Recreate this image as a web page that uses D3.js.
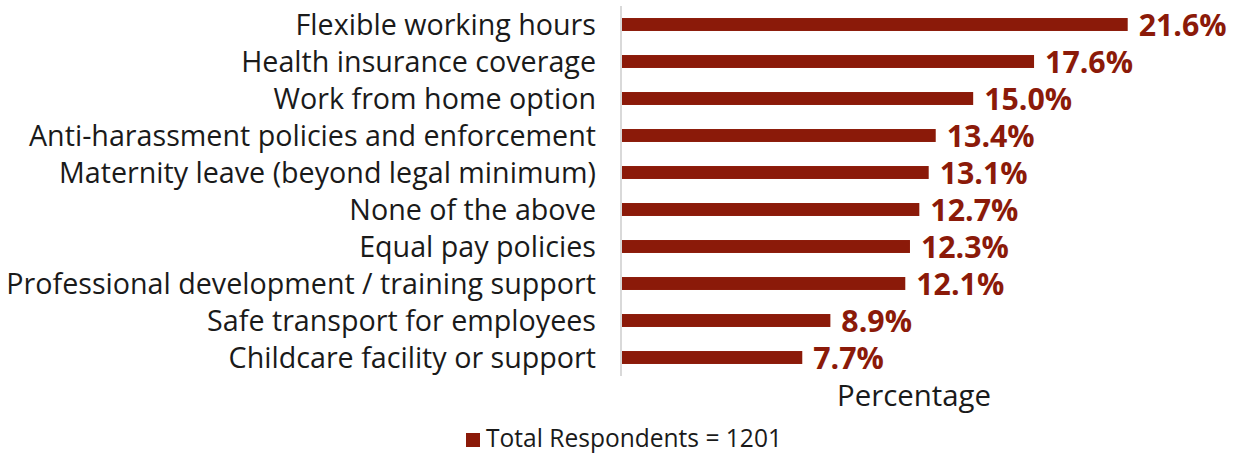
<!DOCTYPE html>
<html><head><meta charset="utf-8">
<script src="https://cdn.jsdelivr.net/npm/d3@7"></script>
<style>body{margin:0;background:#fff}svg{display:block}</style>
</head><body><div id="chart"></div>
<script>
const categories = ["Flexible working hours","Health insurance coverage","Work from home option","Anti-harassment policies and enforcement","Maternity leave (beyond legal minimum)","None of the above","Equal pay policies","Professional development / training support","Safe transport for employees","Childcare facility or support"];
const values = [21.6,17.6,15.0,13.4,13.1,12.7,12.3,12.1,8.9,7.7];
const seriesName = "Total Respondents = 1201";
const axisTitle = "Percentage";

const W=1237,H=455, color="#8B1A09", font="'Open Sans', sans-serif";
const svg=d3.select("#chart").append("svg").attr("width",W).attr("height",H);
const x0=622, y0=6, y1=376;
const x=d3.scaleLinear().domain([0,21.6]).range([x0,1127.7]);
const y=d3.scaleBand().domain(categories).range([y0,y1]).paddingInner(0.65).paddingOuter(0.325);

function fit(sel,target){const w=sel.node().getComputedTextLength();const fs=parseFloat(sel.attr("font-size"));sel.attr("font-size",fs*target/w);return fs*target/w;}

svg.append("line").attr("x1",621).attr("x2",621).attr("y1",y0).attr("y2",y1).attr("stroke","#d9d9d9").attr("stroke-width",2);

svg.selectAll("rect.bar").data(values).join("rect").attr("class","bar")
 .attr("x",x0).attr("y",(d,i)=>y(categories[i])).attr("height",y.bandwidth())
 .attr("width",d=>x(d)-x0).attr("fill",color);

// category labels
const cl=svg.selectAll("text.cat").data(categories).join("text").attr("class","cat")
 .attr("x",596).attr("y",d=>y(d)+y.bandwidth()/2).attr("dy","0.36em").attr("text-anchor","end")
 .attr("font-family",font).attr("font-size",22).attr("fill","#1a1a1a").text(d=>d);
const longest=cl.filter(d=>d===categories[7]);
const cfs=fit(longest,590); cl.attr("font-size",cfs);

// value labels
const vl=svg.selectAll("text.val").data(values).join("text").attr("class","val")
 .attr("x",d=>x(d)+11).attr("y",(d,i)=>y(categories[i])+y.bandwidth()/2).attr("dy","0.37em")
 .attr("font-family",font).attr("font-weight",700).attr("font-size",26).attr("fill",color)
 .text(d=>d.toFixed(1)+"%");
const vfs=fit(vl.filter((d,i)=>i===0),88); vl.attr("font-size",vfs);

const at=svg.append("text").attr("x",914).attr("y",406).attr("text-anchor","middle")
 .attr("font-family",font).attr("font-size",22).attr("fill","#1a1a1a").text(axisTitle);
fit(at,154);

svg.append("rect").attr("x",466).attr("y",433).attr("width",14).attr("height",14).attr("fill",color);
const lt=svg.append("text").attr("x",486).attr("y",447).attr("font-family",font).attr("font-size",19).attr("fill","#1a1a1a").text(seriesName);
fit(lt,296);
</script></body></html>
